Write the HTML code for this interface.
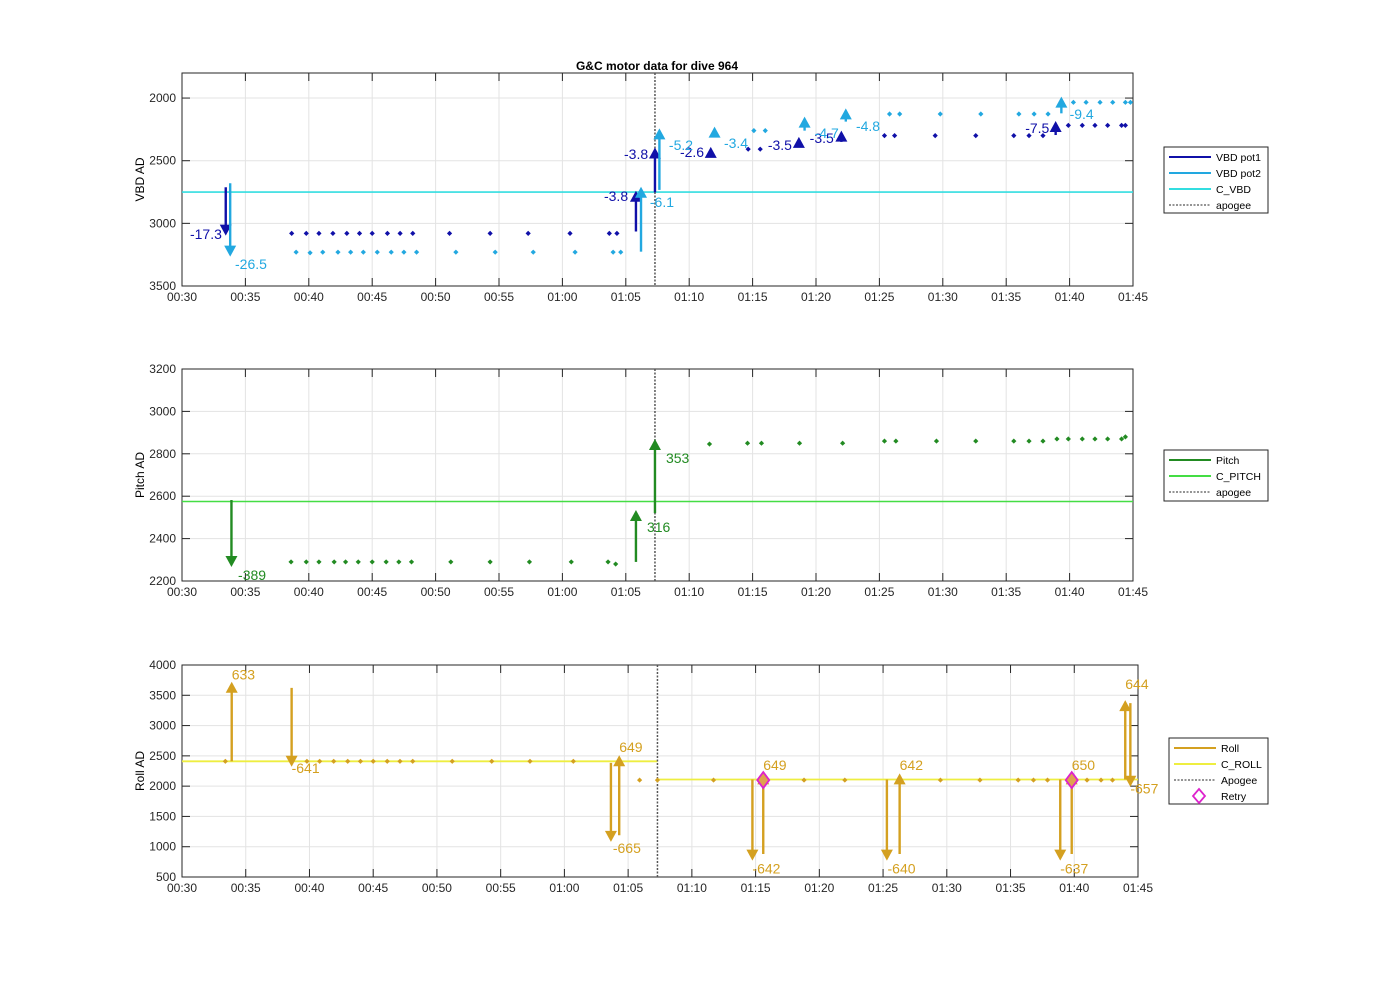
<!DOCTYPE html>
<html><head><meta charset="utf-8"><style>
html,body{margin:0;padding:0;background:#fff;}
svg{display:block;font-family:"Liberation Sans",Arial,sans-serif;}
</style></head><body>
<svg id="fig" width="1400" height="986" viewBox="0 0 1400 986">
<text x="657" y="70" text-anchor="middle" font-size="12" font-weight="bold" fill="#000">G&amp;C motor data for dive 964</text>
</svg>
<script>
// ---------- Data ----------
const xTickLabels = ["00:30","00:35","00:40","00:45","00:50","00:55","01:00","01:05","01:10","01:15","01:20","01:25","01:30","01:35","01:40","01:45"];
const xTickMinutes = [30,35,40,45,50,55,60,65,70,75,80,85,90,95,100,105];
const apogeeMin = 67.3;

const vbdTicks = [2000,2500,3000,3500];
const pitchTicks = [2200,2400,2600,2800,3000,3200];
const rollTicks = [500,1000,1500,2000,2500,3000,3500,4000];

const pot1Times = [38.65,39.8,40.8,41.9,43.0,44.0,45.0,46.2,47.2,48.2,51.1,54.3,57.3,60.6,63.7,64.3,74.65,75.6,85.4,86.2,89.4,92.6,95.6,96.8,97.9,99.9,101.0,102.0,103.0,104.1,104.4];
const pot1Values = [3080,3080,3080,3080,3080,3080,3080,3080,3080,3080,3080,3080,3080,3080,3080,3080,2408,2408,2300,2300,2300,2300,2300,2300,2300,2218,2218,2218,2218,2218,2218];
const pot2Times = [39.0,40.1,41.1,42.3,43.3,44.3,45.4,46.5,47.5,48.5,51.6,54.7,57.7,61.0,64.0,64.6,75.1,76.0,85.8,86.6,89.8,93.0,96.0,97.2,98.3,100.3,101.3,102.4,103.4,104.4,104.8];
const pot2Values = [3230,3235,3230,3230,3230,3230,3230,3230,3230,3230,3230,3230,3230,3230,3230,3230,2260,2260,2127,2127,2127,2127,2127,2127,2127,2034,2034,2034,2034,2034,2034];
const cVbd = 2750;

const pot1ArrT = [33.45,65.8,67.3,71.7,78.65,82.0,98.9];
const pot1ArrFrom = [2712,3065,2752,2440,2390,2350,2295];
const pot1ArrTo = [3098,2740,2395,2390,2310,2260,2183];
const pot1Labels = ["-17.3","-3.8","-3.8","-2.6","-3.5","-3.5","-7.5"];
const pot1LabT = [30.63,63.28,64.86,69.27,76.2,79.5,96.5];
const pot1LabV = [3125,2822,2486,2470,2415,2359,2279];

const pot2ArrT = [33.8,66.2,67.65,72.0,79.1,82.35,99.35];
const pot2ArrFrom = [2680,3226,2733,2280,2260,2188,2122];
const pot2ArrTo = [3266,2708,2242,2228,2148,2082,1989];
const pot2Labels = ["-26.5","-6.1","-5.2","-3.4","-4.7","-4.8","-9.4"];
const pot2LabT = [34.18,66.9,68.4,72.74,79.9,83.15,100.0];
const pot2LabV = [3364,2870,2415,2399,2319,2263,2167];

const pitchTimes = [38.6,39.8,40.8,42.0,42.9,43.9,45.0,46.1,47.1,48.1,51.2,54.3,57.4,60.7,63.6,64.2,71.6,74.6,75.7,78.7,82.1,85.4,86.3,89.5,92.6,95.6,96.8,97.9,99.0,99.9,101.0,102.0,103.0,104.1,104.4];
const pitchValues = [2290,2290,2290,2290,2290,2290,2290,2290,2290,2290,2290,2290,2290,2290,2290,2280,2846,2850,2850,2850,2850,2860,2860,2860,2860,2860,2860,2860,2870,2870,2870,2870,2870,2870,2880];
const cPitch = 2575;
const pitchArrT = [33.9,65.8,67.3];
const pitchArrFrom = [2582,2290,2520];
const pitchArrTo = [2266,2535,2870];
const pitchLabels = ["-389","316","353"];
const pitchLabT = [34.42,66.67,68.17];
const pitchLabV = [2205,2431,2757];

const rollTimes = [33.4,39.8,40.8,41.9,43.0,44.0,45.0,46.1,47.1,48.1,51.2,54.3,57.3,60.7,65.9,67.3,71.7,78.8,82.0,89.5,92.6,95.6,96.8,97.9,101.0,102.1,103.0];
const rollValues = [2410,2410,2410,2410,2410,2410,2410,2410,2410,2410,2410,2410,2410,2410,2100,2100,2100,2100,2100,2100,2100,2100,2100,2100,2100,2100,2100];
const cRollPre = 2410;
const cRollPost = 2110;
const retryTimes = [75.6,99.8];
const retryValues = [2100,2100];
const rollArrT = [33.9,38.6,63.65,64.3,74.75,75.6,85.3,86.3,98.9,99.8,104.0,104.4];
const rollArrFrom = [2410,3623,2385,1190,2110,880,2110,880,2110,880,2110,3370];
const rollArrTo = [3724,2320,1080,2510,770,2210,770,2210,770,2210,3420,1990];
const rollLabels = ["633","-641","-665","649","-642","649","-640","642","-637","650","644","-657"];
const rollLabT = [33.9,38.6,63.8,64.3,74.75,75.6,85.35,86.3,98.9,99.8,104.0,104.4];
const rollLabV = [3760,2220,900,2560,560,2270,560,2270,560,2270,3600,1880];

// ---------- Drawing ----------
const NS = "http://www.w3.org/2000/svg";
const svg = document.getElementById('fig');
function mk(tag, attrs, parent){
  const e = document.createElementNS(NS, tag);
  for (const k in attrs) e.setAttribute(k, attrs[k]);
  (parent||svg).appendChild(e);
  return e;
}
function makeAxes(x0,x1,y0,y1,vmin,vmax,reversed){
  const X = t => x0 + (t-30)/(105-30)*(x1-x0);
  const Y = v => reversed ? y0 + (v-vmin)/(vmax-vmin)*(y1-y0) : y1 - (v-vmin)/(vmax-vmin)*(y1-y0);
  return {X,Y,x0,x1,y0,y1};
}
function drawFrame(ax, yTicks, name, ylabel){
  const g = mk('g',{});
  
  
  mk('rect',{x:ax.x0,y:ax.y0,width:ax.x1-ax.x0,height:ax.y1-ax.y0,fill:'#fff'},g);
  xTickMinutes.forEach((m,i)=>{
    const x = ax.X(m);
    mk('line',{x1:x,x2:x,y1:ax.y0,y2:ax.y1,stroke:'#e3e3e3','stroke-width':1},g);
  });
  yTicks.forEach(v=>{
    const y = ax.Y(v);
    mk('line',{x1:ax.x0,x2:ax.x1,y1:y,y2:y,stroke:'#e3e3e3','stroke-width':1},g);
  });
  xTickMinutes.forEach((m,i)=>{
    const x = ax.X(m);
    mk('line',{x1:x,x2:x,y1:ax.y1,y2:ax.y1-8,stroke:'#262626'},g);
    mk('line',{x1:x,x2:x,y1:ax.y0,y2:ax.y0+8,stroke:'#262626'},g);
    const t = mk('text',{x:x,y:ax.y1+15,'text-anchor':'middle','font-size':12,fill:'#262626'},g);
    t.textContent = xTickLabels[i];
    
    
  });
  yTicks.forEach(v=>{
    const y = ax.Y(v);
    mk('line',{x1:ax.x0,x2:ax.x0+8,y1:y,y2:y,stroke:'#262626'},g);
    mk('line',{x1:ax.x1,x2:ax.x1-8,y1:y,y2:y,stroke:'#262626'},g);
    const t = mk('text',{x:ax.x0-6,y:y+4,'text-anchor':'end','font-size':12,fill:'#262626'},g);
    t.textContent = v;
    
    
  });
  mk('rect',{x:ax.x0,y:ax.y0,width:ax.x1-ax.x0,height:ax.y1-ax.y0,fill:'none',stroke:'#262626','stroke-width':1},g);
  const cy = (ax.y0+ax.y1)/2;
  const yl = mk('text',{x:0,y:0,transform:`translate(144,${cy}) rotate(-90)`,'text-anchor':'middle','font-size':12,fill:'#000'},g);
  yl.textContent = ylabel;
  
  
  return g;
}
function hline(ax,t0,t1,v,color,w,name){
  const l = mk('line',{x1:ax.X(t0),x2:ax.X(t1),y1:ax.Y(v),y2:ax.Y(v),stroke:color,'stroke-width':w});
  
  
}
function apogee(ax){
  const x = ax.X(apogeeMin);
  const l = mk('line',{x1:x,x2:x,y1:ax.y0,y2:ax.y1,stroke:'#555','stroke-width':1.5,'stroke-dasharray':'2,1.5'});
  
  
}
function dots(ax,ts,vs,color,name){
  ts.forEach((t,i)=>{
    const x = ax.X(t), y = ax.Y(vs[i]);
    const p = mk('path',{d:`M${x} ${y-2.6}L${x+2.6} ${y}L${x} ${y+2.6}L${x-2.6} ${y}Z`,fill:color});
    
    
  });
}
function arrows(ax,ts,from,to,color,name){
  ts.forEach((t,i)=>{
    const x = ax.X(t), ya = ax.Y(from[i]), yb = ax.Y(to[i]);
    const dir = yb < ya ? -1 : 1;
    const hl = 11, hw = 6;
    const g = mk('g',{});
    
    
    mk('line',{x1:x,x2:x,y1:ya,y2:yb - dir*hl*0.6,stroke:color,'stroke-width':2.4},g);
    mk('path',{d:`M${x} ${yb}L${x-hw} ${yb-dir*hl}L${x+hw} ${yb-dir*hl}Z`,fill:color},g);
  });
}
function labels(ax,txt,ts,vs,color,name){
  txt.forEach((s,i)=>{
    const t = mk('text',{x:ax.X(ts[i]),y:ax.Y(vs[i]),'font-size':14,fill:color});
    t.textContent = s;
    
    
  });
}
function legend(x,y,w,h,entries,name){
  const g = mk('g',{});
  
  
  mk('rect',{x:x,y:y,width:w,height:h,fill:'#fff',stroke:'#262626','stroke-width':1},g);
  entries.forEach((e,i)=>{
    const cy = y+10+i*16;
    if (e.type==='diamond'){
      mk('path',{d:`M${x+30} ${cy-7}L${x+36} ${cy}L${x+30} ${cy+7}L${x+24} ${cy}Z`,fill:'none',stroke:e.color,'stroke-width':1.8},g);
    } else {
      mk('line',{x1:x+5,x2:x+47,y1:cy,y2:cy,stroke:e.color,'stroke-width':e.dash?1.2:2,'stroke-dasharray':e.dash?'2,1.5':'none'},g);
    }
    const t = mk('text',{x:x+52,y:cy+4,'font-size':10.5,fill:'#000'},g);
    t.textContent = e.label;
  });
}

// Colors
const C1='#1010a8', C2='#22a8e0', CV='#33dde0', CP='#228b22', CCP='#44dd44', CR='#d4a020', CCR='#eeee40', CRT='#dd22cc';

// Panel 1
const a1 = makeAxes(182,1133,73,286,1800,3500,true);
drawFrame(a1, vbdTicks, 'vbd', 'VBD AD');
hline(a1,30,105,cVbd,CV,1.6,'c-vbd-line');
apogee(a1);
dots(a1,pot1Times,pot1Values,C1,'vbd-pot1-point');
dots(a1,pot2Times,pot2Values,C2,'vbd-pot2-point');
arrows(a1,pot1ArrT,pot1ArrFrom,pot1ArrTo,C1,'vbd-pot1-arrow');
arrows(a1,pot2ArrT,pot2ArrFrom,pot2ArrTo,C2,'vbd-pot2-arrow');
labels(a1,pot1Labels,pot1LabT,pot1LabV,C1,'vbd-pot1-label');
labels(a1,pot2Labels,pot2LabT,pot2LabV,C2,'vbd-pot2-label');
legend(1164,147,104,66,[{label:'VBD pot1',color:C1},{label:'VBD pot2',color:C2},{label:'C_VBD',color:CV},{label:'apogee',color:'#555',dash:true}],'vbd-legend');

// Panel 2
const a2 = makeAxes(182,1133,369,581,2200,3200,false);
drawFrame(a2, pitchTicks, 'pitch', 'Pitch AD');
hline(a2,30,105,cPitch,CCP,1.6,'c-pitch-line');
apogee(a2);
dots(a2,pitchTimes,pitchValues,CP,'pitch-point');
arrows(a2,pitchArrT,pitchArrFrom,pitchArrTo,CP,'pitch-arrow');
labels(a2,pitchLabels,pitchLabT,pitchLabV,CP,'pitch-label');
legend(1164,450,104,51,[{label:'Pitch',color:CP},{label:'C_PITCH',color:CCP},{label:'apogee',color:'#555',dash:true}],'pitch-legend');

// Panel 3
const a3 = makeAxes(182,1138,665,877,500,4000,false);
drawFrame(a3, rollTicks, 'roll', 'Roll AD');
hline(a3,30,apogeeMin,cRollPre,CCR,1.8,'c-roll-line-pre');
hline(a3,apogeeMin,105,cRollPost,CCR,1.8,'c-roll-line-post');
apogee(a3);
dots(a3,rollTimes,rollValues,CR,'roll-point');
arrows(a3,rollArrT,rollArrFrom,rollArrTo,CR,'roll-arrow');
retryTimes.forEach((t,i)=>{
  const x=a3.X(t), y=a3.Y(retryValues[i]);
  const p = mk('path',{d:`M${x} ${y-8}L${x+6} ${y}L${x} ${y+8}L${x-6} ${y}Z`,fill:'#e0a050',stroke:CRT,'stroke-width':1.8});
  
  
});
labels(a3,rollLabels,rollLabT,rollLabV,CR,'roll-label');
legend(1169,738,99,66,[{label:'Roll',color:CR},{label:'C_ROLL',color:CCR},{label:'Apogee',color:'#555',dash:true},{label:'Retry',color:CRT,type:'diamond'}],'roll-legend');
</script>
</body></html>
